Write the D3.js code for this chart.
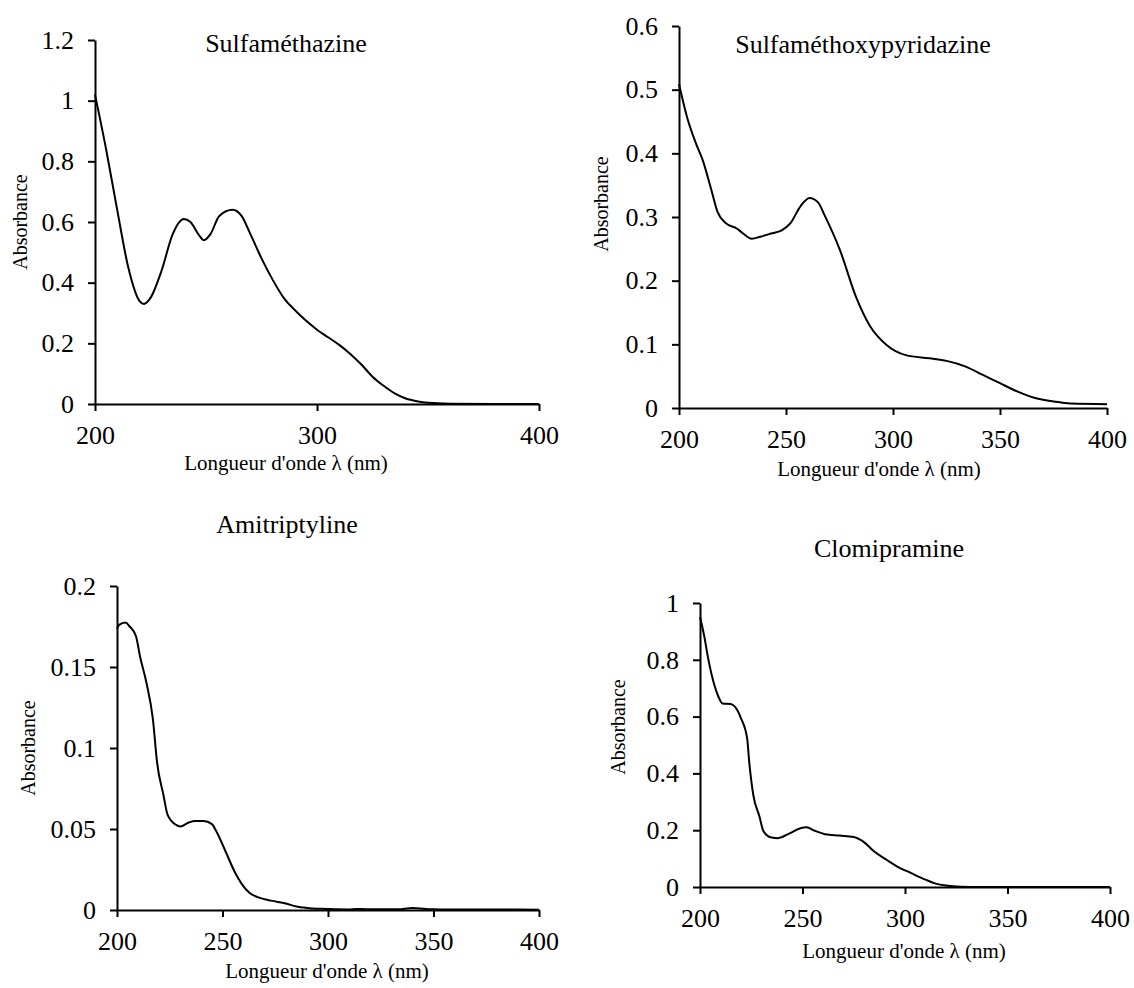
<!DOCTYPE html>
<html>
<head>
<meta charset="utf-8">
<script src="https://cdn.jsdelivr.net/npm/d3@7"></script>
<style>
    body { margin: 0; background: #fff; }
    svg { display: block; font-family: "Liberation Serif", "Times New Roman", serif; }
    .tick text { font-family: "Liberation Serif", "Times New Roman", serif; font-size: 26px; fill: #000; }
    .domain, .tick line { stroke: #000; stroke-width: 2px; }
</style>
</head>
<body>
<svg id="chart" width="1134" height="988"></svg>
<script>
// Sulfaméthazine
const sulfamethazineWl = [200, 205, 210, 215, 220, 222, 225, 230, 235, 240, 243, 247, 249, 252, 256, 262, 266, 270, 275, 280, 285, 290, 295, 300, 305, 310, 315, 320, 325, 330, 335, 340, 345, 350, 360, 380, 400];
const sulfamethazineAbs = [1.02, 0.84, 0.64, 0.45, 0.34, 0.33, 0.35, 0.44, 0.56, 0.61, 0.60, 0.555, 0.54, 0.56, 0.62, 0.64, 0.62, 0.56, 0.48, 0.41, 0.35, 0.31, 0.275, 0.245, 0.22, 0.195, 0.165, 0.13, 0.09, 0.06, 0.035, 0.018, 0.009, 0.004, 0.001, 0, 0];

// Sulfaméthoxypyridazine
const sulfamethoxyWl = [200, 204, 208, 211, 215, 218, 222, 227, 230, 234, 238, 243, 248, 252, 257, 261, 265, 268, 275, 283, 289, 297, 306, 317, 325, 334, 342, 350, 358, 366, 378, 383, 400];
const sulfamethoxyAbs = [0.509, 0.454, 0.415, 0.39, 0.344, 0.308, 0.29, 0.282, 0.274, 0.266, 0.269, 0.274, 0.279, 0.29, 0.318, 0.33, 0.323, 0.303, 0.25, 0.172, 0.13, 0.099, 0.083, 0.078, 0.074, 0.065, 0.052, 0.039, 0.026, 0.016, 0.009, 0.007, 0.006];

// Amitriptyline
const amitriptylineWl = [200, 201, 204, 206, 209, 211, 214, 217, 219, 222, 224, 228, 230, 234, 237, 241, 245, 247, 251, 256, 259, 263, 267, 273, 280, 285, 290, 297, 310, 313, 318, 333, 340, 350, 363, 375, 400];
const amitriptylineAbs = [0.1737, 0.176, 0.1775, 0.175, 0.169, 0.156, 0.14, 0.118, 0.091, 0.071, 0.0587, 0.0525, 0.0516, 0.054, 0.0549, 0.0549, 0.053, 0.0487, 0.0375, 0.023, 0.0163, 0.0103, 0.0078, 0.0058, 0.004, 0.0022, 0.0013, 0.0007, 0.0003, 0.0006, 0.0005, 0.0004, 0.0012, 0.0004, 0.0003, 0.0003, 0.0002];

// Clomipramine
const clomipramineWl = [200, 202, 204, 207, 209, 211, 215, 217, 220, 223, 224, 226, 229, 231, 235, 238, 244, 249, 252, 256, 261, 268, 275, 280, 285, 291, 296, 303, 310, 315, 320, 327, 336, 400];
const clomipramineAbs = [0.951, 0.886, 0.804, 0.711, 0.67, 0.646, 0.644, 0.635, 0.594, 0.523, 0.441, 0.324, 0.248, 0.196, 0.174, 0.172, 0.19, 0.207, 0.21, 0.198, 0.186, 0.181, 0.176, 0.158, 0.125, 0.096, 0.073, 0.049, 0.026, 0.012, 0.005, 0.001, 0, 0];

const panels = [
    {title: "Sulfaméthazine", wl: sulfamethazineWl, abs: sulfamethazineAbs,
        yMax: 1.2, yStep: 0.2, xStep: 100,
        xRange: [95, 539], yRange: [404, 40],
        titlePos: [286, 52], xLabelPos: [286, 470], yLabelPos: [20, 222]},
    {title: "Sulfaméthoxypyridazine", wl: sulfamethoxyWl, abs: sulfamethoxyAbs,
        yMax: 0.6, yStep: 0.1, xStep: 50,
        xRange: [679, 1107], yRange: [408, 26],
        titlePos: [863, 53], xLabelPos: [879, 476], yLabelPos: [601, 204]},
    {title: "Amitriptyline", wl: amitriptylineWl, abs: amitriptylineAbs,
        yMax: 0.2, yStep: 0.05, xStep: 50,
        xRange: [117, 539], yRange: [910, 586],
        titlePos: [287, 533], xLabelPos: [327, 978], yLabelPos: [28, 748]},
    {title: "Clomipramine", wl: clomipramineWl, abs: clomipramineAbs,
        yMax: 1, yStep: 0.2, xStep: 50,
        xRange: [700, 1110], yRange: [887, 603],
        titlePos: [889, 557], xLabelPos: [904, 958], yLabelPos: [618, 727]}
];

const svg = d3.select("#chart");

function drawPanel(p) {
    const g = svg.append("g");
    const data = p.wl.map((w, i) => ({w: w, a: p.abs[i]}));

    const xScale = d3.scaleLinear().domain([200, 400]).range(p.xRange);
    const yScale = d3.scaleLinear().domain([0, p.yMax]).range(p.yRange);

    const yTicks = d3.range(0, p.yMax + p.yStep / 2, p.yStep);
    const xTicks = d3.range(200, 400 + 1, p.xStep);

    g.append("g")
        .attr("transform", "translate(0," + p.yRange[0] + ")")
        .call(d3.axisBottom(xScale)
            .tickValues(xTicks)
            .tickSize(7)
            .tickSizeOuter(0)
            .tickPadding(15)
            .tickFormat(d3.format("d")));

    g.append("g")
        .attr("transform", "translate(" + p.xRange[0] + ",0)")
        .call(d3.axisLeft(yScale)
            .tickValues(yTicks)
            .tickSize(7)
            .tickSizeOuter(0)
            .tickPadding(14)
            .tickFormat(d => String(+d.toFixed(2))));

    const line = d3.line()
        .x(d => xScale(d.w))
        .y(d => yScale(d.a))
        .curve(d3.curveMonotoneX);

    g.append("path")
        .datum(data)
        .attr("d", line)
        .attr("fill", "none")
        .attr("stroke", "#000")
        .attr("stroke-width", 2)
        .attr("stroke-linejoin", "round");

    g.append("text")
        .attr("x", p.titlePos[0])
        .attr("y", p.titlePos[1])
        .attr("text-anchor", "middle")
        .style("font-size", "26px")
        .text(p.title);

    g.append("text")
        .attr("x", p.xLabelPos[0])
        .attr("y", p.xLabelPos[1])
        .attr("text-anchor", "middle")
        .style("font-size", "21px")
        .text("Longueur d'onde λ (nm)");

    g.append("text")
        .attr("transform", "translate(" + p.yLabelPos[0] + "," + p.yLabelPos[1] + ") rotate(-90)")
        .attr("text-anchor", "middle")
        .attr("dy", "0.35em")
        .style("font-size", "20px")
        .text("Absorbance");
}

panels.forEach(drawPanel);
</script>
</body>
</html>
